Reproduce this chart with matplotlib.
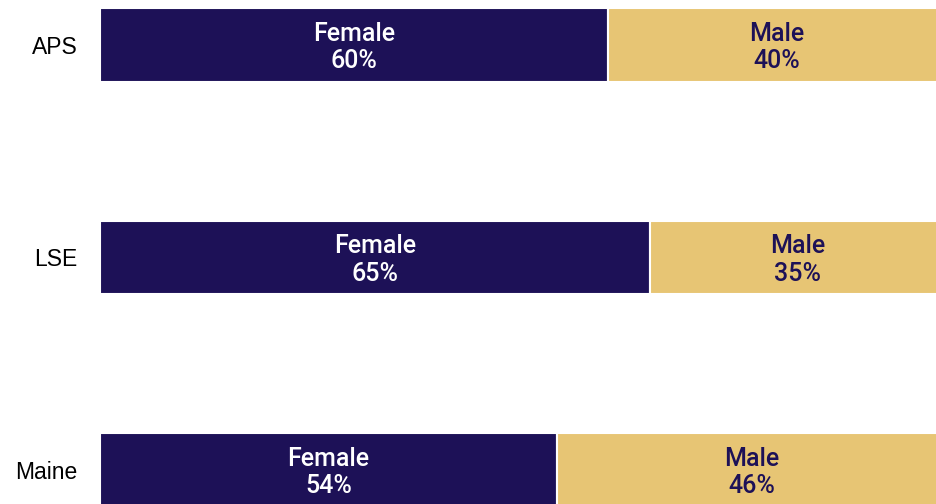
import matplotlib.pyplot as plt
import numpy as np

plt.rcParams['font.family'] = ['Roboto', 'Liberation Sans', 'DejaVu Sans']

# 数据
groups = ['APS', 'LSE', 'Maine']
female = [60, 65, 54]
male = [40, 35, 46]

navy = '#1D1157'
gold = '#E7C574'

fig = plt.figure(figsize=(9.36, 5.04), dpi=100)
# 坐标轴故意超出画布右侧（原图被裁切）
ax = fig.add_axes([100 / 936, 0, 846 / 936, 1])

y = np.arange(len(groups))
h = 0.345
ax.barh(y, female, height=h, color=navy, edgecolor='white', linewidth=1.5)
ax.barh(y, male, left=female, height=h, color=gold, edgecolor='white', linewidth=1.5)

dy = 0.012  # 文字略微下移
for i in range(len(groups)):
    ax.text(female[i] / 2, y[i] + dy, f'Female\n{female[i]}%', ha='center', va='center',
            color='white', fontsize=18, fontweight='medium', linespacing=1.2)
    ax.text(female[i] + male[i] / 2, y[i] + dy, f'Male\n{male[i]}%', ha='center', va='center',
            color=navy, fontsize=18, fontweight='medium', linespacing=1.2)

ax.set_xlim(0, 100)
ax.set_ylim(2 + 34 / 212.5, -45 / 212.5)
ax.set_yticks(y)
ax.set_yticklabels(groups, fontsize=16.5, family=['Liberation Sans'])
ax.tick_params(axis='y', length=0, pad=16)
ax.set_xticks([])
for s in ax.spines.values():
    s.set_visible(False)

fig.savefig('out.png', dpi=100)
